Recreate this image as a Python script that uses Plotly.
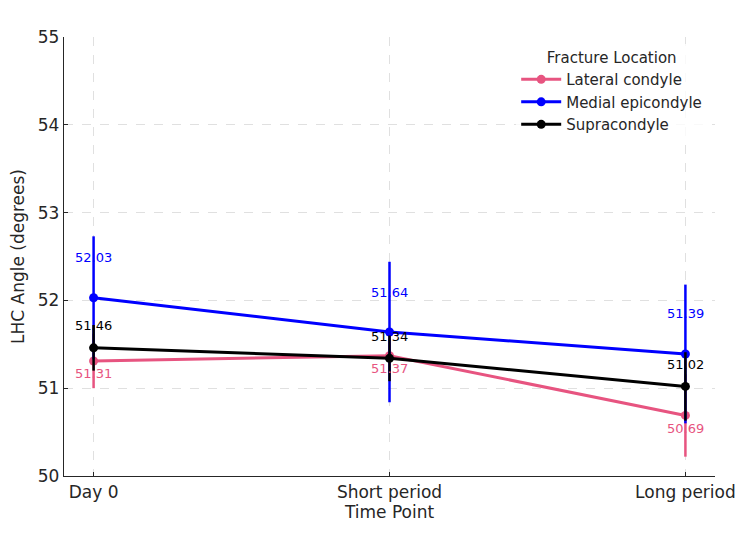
import plotly.graph_objects as go

time_points = ["Day 0", "Short period", "Long period"]
groups = ["Lateral condyle", "Medial epicondyle", "Supracondyle"]
means = {
    "Lateral condyle": [51.31, 51.37, 50.69],
    "Medial epicondyle": [52.03, 51.64, 51.39],
    "Supracondyle": [51.46, 51.34, 51.02],
}
errors = {
    "Lateral condyle": [0.31, 0.20, 0.47],
    "Medial epicondyle": [0.70, 0.80, 0.79],
    "Supracondyle": [0.26, 0.26, 0.39],
}
colors = {
    "Lateral condyle": "#E75480",
    "Medial epicondyle": "#0000FF",
    "Supracondyle": "#000000",
}
label_shift = {
    "Lateral condyle": -13,
    "Medial epicondyle": 40,
    "Supracondyle": 22,
}

xpos = list(range(len(time_points)))
fig = go.Figure()
for g in groups:
    fig.add_trace(go.Scatter(
        x=xpos, y=means[g], name=g, mode="lines+markers",
        line=dict(color=colors[g], width=3),
        marker=dict(color=colors[g], size=9),
        error_y=dict(type="data", array=errors[g], color=colors[g],
                     thickness=2.5, width=0),
    ))
annotations = []
for g in groups:
    for x, v in zip(xpos, means[g]):
        annotations.append(dict(
            x=x, y=v, text=f"{v:.2f}", showarrow=False, yshift=label_shift[g],
            font=dict(color=colors[g], size=13, family="DejaVu Sans"),
            xanchor="center", yanchor="middle",
        ))

fig.update_layout(
    width=750, height=535,
    margin=dict(l=64, r=35, t=37, b=59),
    paper_bgcolor="white", plot_bgcolor="white",
    font=dict(family="DejaVu Sans", color="#262626", size=17),
    annotations=annotations,
    legend=dict(
        title=dict(text="Fracture Location", side="top center", font=dict(size=15)),
        x=0.988, y=0.985, xanchor="right", yanchor="top",
        font=dict(size=15), bgcolor="rgba(255,255,255,0.8)",
        itemwidth=40, tracegroupgap=0,
    ),
    showlegend=True,
)
fig.update_xaxes(
    tickvals=xpos, ticktext=time_points, range=[-0.1, 2.1],
    title=dict(text="Time Point", font=dict(size=17), standoff=3),
    showgrid=True, gridcolor="#e0e0e0", griddash="dash", gridwidth=1,
    showline=True, linecolor="#262626", linewidth=1.3,
    ticks="inside", ticklen=4, tickcolor="#262626", zeroline=False,
)
fig.update_yaxes(
    range=[50, 55], dtick=1,
    title=dict(text="LHC Angle (degrees)", font=dict(size=17), standoff=8),
    showgrid=True, gridcolor="#e0e0e0", griddash="dash", gridwidth=1,
    showline=True, linecolor="#262626", linewidth=1.3,
    ticks="inside", ticklen=4, tickcolor="#262626", zeroline=False,
)
fig.write_html("out.html")
